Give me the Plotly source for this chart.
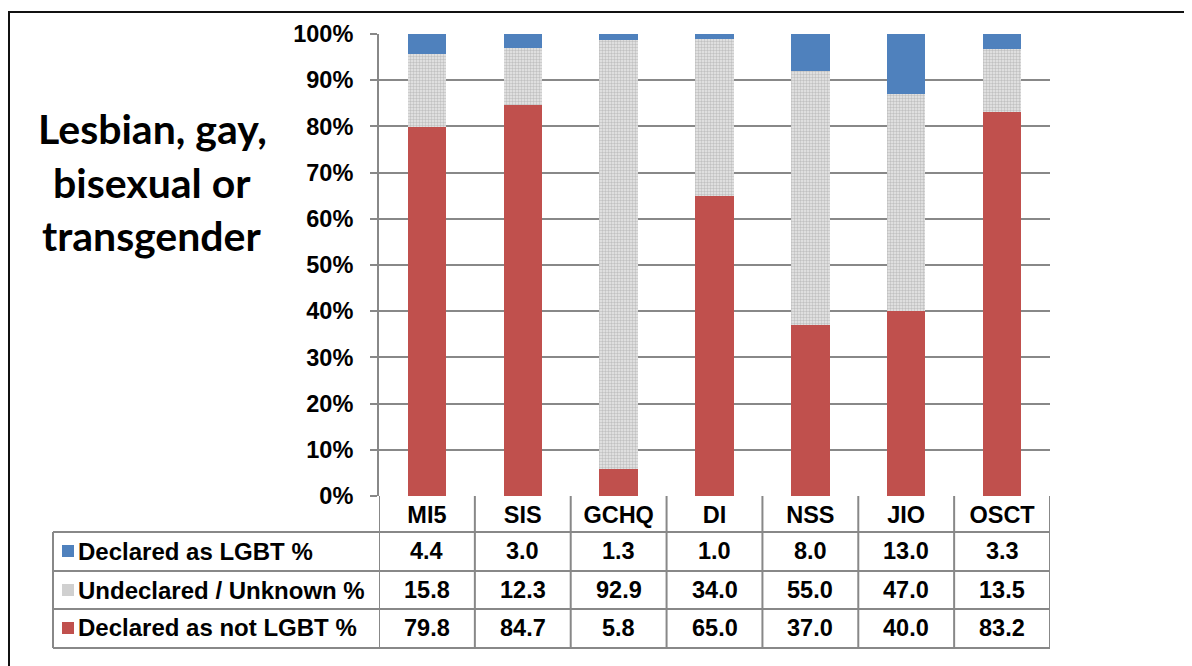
import plotly.graph_objects as go

# ---------------- data ----------------
categories = ["MI5", "SIS", "GCHQ", "DI", "NSS", "JIO", "OSCT"]
declared_lgbt = [4.4, 3.0, 1.3, 1.0, 8.0, 13.0, 3.3]
undeclared = [15.8, 12.3, 92.9, 34.0, 55.0, 47.0, 13.5]
declared_not = [79.8, 84.7, 5.8, 65.0, 37.0, 40.0, 83.2]
series_names = ["Declared as LGBT %", "Undeclared / Unknown %", "Declared as not LGBT %"]
y_ticks = [0, 10, 20, 30, 40, 50, 60, 70, 80, 90, 100]
y_tick_labels = [f"{v}%" for v in y_ticks]
title_lines = ["Lesbian, gay,", "bisexual or", "transgender"]

# ---------------- styling ----------------
PAGE_W, PAGE_H = 1192, 666
OFF = 8  # default body margin of the html page
L, R, T, B = 379, 1050, 34, 496  # plot area in page pixels
BLUE = "#4F81BD"
RED = "#C0504D"
GRID = "#888888"
FONT = "Liberation Sans, Arial, sans-serif"
FS = 23.5


def px(x):
    return (x - L) / (R - L)


def py(y):
    return (B - y) / (B - T)


fig = go.Figure()
fig.add_trace(go.Bar(
    x=categories, y=declared_not, name=series_names[2],
    marker=dict(color=RED, line=dict(width=0)), showlegend=False,
))
fig.add_trace(go.Bar(
    x=categories, y=undeclared, name=series_names[1],
    marker=dict(color="#dcdcdc", line=dict(width=0),
                pattern=dict(shape=".", fgcolor="#9a9a9a", bgcolor="#e8e8e8",
                             size=3, solidity=0.5)),
    showlegend=False,
))
fig.add_trace(go.Bar(
    x=categories, y=declared_lgbt, name=series_names[0],
    marker=dict(color=BLUE, line=dict(width=0)), showlegend=False,
))

shapes = []
annotations = []

# outer border
shapes.append(dict(type="rect", xref="paper", yref="paper",
                   x0=px(9), x1=px(1210), y0=py(12), y1=py(690),
                   line=dict(color="#111111", width=2), fillcolor="rgba(0,0,0,0)"))

# title on the left
title_y = [129, 182, 235]
for line, yy in zip(title_lines, title_y):
    annotations.append(dict(xref="paper", yref="paper", x=px(152), y=py(yy),
                            text=line, showarrow=False, xanchor="center", yanchor="middle",
                            font=dict(family="Lato, Open Sans, sans-serif", size=41,
                                      color="black", weight="bold")))

# data table
row_lines = [532, 571, 609, 648]
row_centers = [551, 590, 628]
line_style = dict(color=GRID, width=2)
for yy in row_lines:
    shapes.append(dict(type="line", xref="paper", yref="paper",
                       x0=px(53), x1=px(R), y0=py(yy), y1=py(yy), line=line_style))
shapes.append(dict(type="line", xref="paper", yref="paper",
                   x0=px(53), x1=px(53), y0=py(532), y1=py(648), line=line_style))
for k in range(len(categories) + 1):
    shapes.append(dict(type="line", xref="x", yref="paper",
                       x0=k - 0.5, x1=k - 0.5, y0=py(B), y1=py(648), line=line_style))

row_values = [declared_lgbt, undeclared, declared_not]
row_colors = [BLUE, "#d0d0d0", RED]
for name, vals, col, yc in zip(series_names, row_values, row_colors, row_centers):
    shapes.append(dict(type="rect", xref="paper", yref="paper",
                       x0=px(62), x1=px(74), y0=py(yc - 6), y1=py(yc + 6),
                       fillcolor=col, line=dict(width=0)))
    annotations.append(dict(xref="paper", yref="paper", x=px(76), y=py(yc),
                            text=name, showarrow=False, xanchor="left", yanchor="middle",
                            font=dict(family=FONT, size=24, color="black", weight="bold")))
    for cat, v in zip(categories, vals):
        annotations.append(dict(xref="x", yref="paper", x=cat, y=py(yc),
                                text=f"{v:.1f}", showarrow=False,
                                xanchor="center", yanchor="middle",
                                font=dict(family=FONT, size=FS, color="black", weight="bold")))

fig.update_layout(
    width=PAGE_W - OFF, height=PAGE_H - OFF,
    margin=dict(l=L - OFF, r=PAGE_W - R, t=T - OFF, b=PAGE_H - B, pad=0),
    paper_bgcolor="white", plot_bgcolor="white",
    barmode="stack", bargap=0.6,
    shapes=shapes, annotations=annotations,
    xaxis=dict(range=[-0.5, len(categories) - 0.5], showgrid=False,
               showline=False, zeroline=False, ticks="",
               ticklabelstandoff=2,
               tickfont=dict(family=FONT, size=FS, color="black", weight="bold")),
    yaxis=dict(range=[0, 100], tickvals=y_ticks, ticktext=y_tick_labels,
               showgrid=True, gridcolor=GRID, gridwidth=1.5,
               showline=True, linecolor=GRID, linewidth=2,
               ticks="outside", ticklen=7, tickcolor=GRID, tickwidth=1.5,
               ticklabelstandoff=12, zeroline=False,
               tickfont=dict(family=FONT, size=FS, color="black", weight="bold")),
)

fig.write_html("out.html")
